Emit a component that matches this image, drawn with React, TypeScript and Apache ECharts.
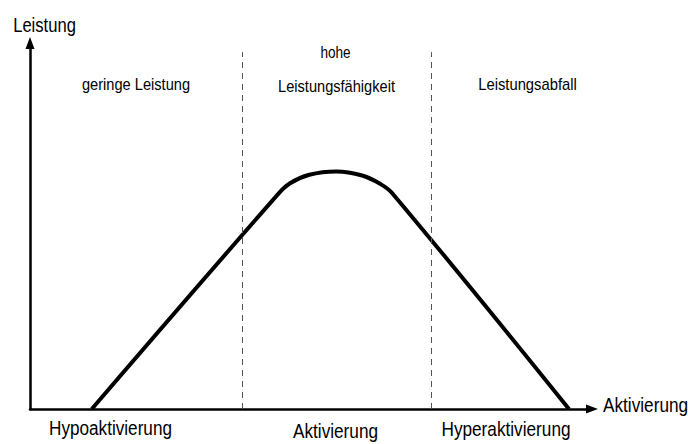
import React, { useEffect, useRef } from "react";
import * as echarts from "echarts";

// Activation (x) and performance (y), in % of the axes
const curveX = [11, 43.9, 46.2, 49.7, 54.5, 59.1, 62.2, 64.5, 95.9];
const curveY = [0, 58.3, 61.6, 64.0, 64.9, 63.8, 61.6, 58.9, 0];
const zoneBounds = [37.7, 71.4];
const zoneTop = 97.5;

const yAxisName = "Leistung";
const xAxisName = "Aktivierung";
const zoneTitles = ["geringe Leistung", "hohe", "Leistungsfähigkeit", "Leistungsabfall"];
const bottomLabels = ["Hypoaktivierung", "Aktivierung", "Hyperaktivierung"];

const FONT = "'Liberation Sans', Arial, sans-serif";

function txt(text: string, x: number, y: number, size: number, sx: number, align = "center") {
  return {
    type: "text",
    x,
    y,
    scaleX: sx,
    silent: true,
    style: {
      text,
      fontSize: size,
      fontFamily: FONT,
      fill: "#000",
      align,
      verticalAlign: "middle",
    },
  };
}

export default function App() {
  const ref = useRef<HTMLDivElement>(null);
  useEffect(() => {
    document.body.style.margin = "0";
    const chart = echarts.init(ref.current!, null, { renderer: "svg" });
    const data = curveX.map((x, i) => [x, curveY[i]]);
    chart.setOption({
      animation: false,
      backgroundColor: "#fff",
      grid: { left: 30, right: 96, top: 43, bottom: 35 },
      xAxis: {
        type: "value",
        min: 0,
        max: 100,
        axisLine: {
          show: true,
          onZero: false,
          symbol: ["none", "triangle"],
          symbolSize: [9, 12],
          lineStyle: { color: "#000", width: 2.5 },
        },
        axisTick: { show: false },
        axisLabel: { show: false },
        splitLine: { show: false },
      },
      yAxis: {
        type: "value",
        min: 0,
        max: 100,
        axisLine: {
          show: true,
          symbol: ["none", "triangle"],
          symbolSize: [9, 12],
          lineStyle: { color: "#000", width: 2.5 },
        },
        axisTick: { show: false },
        axisLabel: { show: false },
        splitLine: { show: false },
      },
      series: [
        {
          type: "line",
          data,
          smooth: 0.4,
          symbol: "none",
          lineStyle: { color: "#000", width: 4 },
          z: 3,
          markLine: {
            silent: true,
            symbol: ["none", "none"],
            label: { show: false },
            lineStyle: { color: "#555", width: 1, type: [6, 5] },
            data: zoneBounds.map((b) => [
              { coord: [b, 0] },
              { coord: [b, zoneTop] },
            ]),
          },
        },
      ],
      graphic: [
        txt(yAxisName, 44.5, 25, 20, 0.83),
        txt(xAxisName, 603, 405, 21, 0.82, "left"),
        txt(zoneTitles[0], 136, 84, 17, 0.86),
        txt(zoneTitles[1], 335.5, 52, 17, 0.8),
        txt(zoneTitles[2], 336.5, 86, 17, 0.86),
        txt(zoneTitles[3], 527.5, 84, 17, 0.87),
        txt(bottomLabels[0], 110.5, 427.5, 21, 0.817),
        txt(bottomLabels[1], 335.5, 431, 21, 0.82),
        txt(bottomLabels[2], 506, 428.5, 21, 0.82),
      ],
    });
    return () => chart.dispose();
  }, []);
  return (
    <div
      ref={ref}
      style={{ position: "fixed", left: 0, top: 0, width: 688, height: 444 }}
    />
  );
}
